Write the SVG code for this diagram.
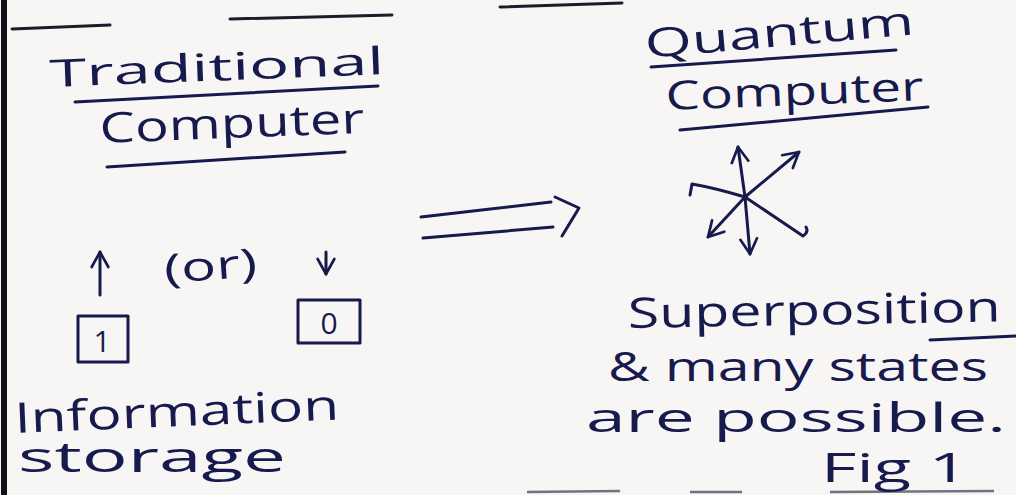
<svg xmlns="http://www.w3.org/2000/svg" width="1016" height="495" viewBox="0 0 1016 495">
<defs>
<style>
.ink{fill:#161a4c;font-family:"Open Sans","DejaVu Sans",sans-serif;font-weight:400;}
.ln{stroke:#161a4c;stroke-width:3;fill:none;stroke-linecap:round;stroke-linejoin:round;}
.rule{stroke:#1c1c2a;stroke-width:3;fill:none;stroke-linecap:round;}
.faint{stroke:#3a3a55;stroke-width:2.5;fill:none;opacity:0.7;}
</style>
<marker id="ah2" viewBox="0 0 12 12" refX="10" refY="6" markerWidth="20" markerHeight="20" orient="auto" markerUnits="userSpaceOnUse">
<path d="M1,1 L10,6 L1,11" fill="none" stroke="#161a4c" stroke-width="1.6" stroke-linecap="round" stroke-linejoin="round"/>
</marker>
</defs>
<rect x="0" y="0" width="1016" height="495" fill="#f8f6f4"/>
<g id="page-lines">
<line x1="4" y1="0" x2="4" y2="495" stroke="#101018" stroke-width="6"/>
<line class="rule" x1="12" y1="29" x2="110" y2="25"/>
<line class="rule" x1="230" y1="19" x2="392" y2="15"/>
<line class="rule" x1="500" y1="7" x2="622" y2="3"/>
<line class="faint" x1="527" y1="492" x2="620" y2="491"/>
<line class="faint" x1="690" y1="492" x2="742" y2="492"/>
<line class="faint" x1="830" y1="492" x2="994" y2="491"/>
<line class="ln" x1="930" y1="340" x2="1016" y2="336"/>
</g>
<g id="traditional-title">
<text class="ink" x="50" y="87" font-size="38" textLength="335" lengthAdjust="spacingAndGlyphs" transform="rotate(-2.2 50 87)">Traditional</text>
<line class="ln" x1="75" y1="102" x2="378" y2="86"/>
<text class="ink" x="100" y="143" font-size="42" textLength="265" lengthAdjust="spacingAndGlyphs" transform="rotate(-2.2 100 143)">Computer</text>
<line class="ln" x1="107" y1="167" x2="345" y2="152"/>
</g>
<g id="quantum-title">
<text class="ink" x="646" y="58" font-size="40" textLength="270" lengthAdjust="spacingAndGlyphs" transform="rotate(-5 646 58)">Quantum</text>
<line class="ln" x1="651" y1="67" x2="896" y2="50"/>
<text class="ink" x="666" y="110" font-size="40" textLength="258" lengthAdjust="spacingAndGlyphs" transform="rotate(-2.2 666 110)">Computer</text>
<line class="ln" x1="680" y1="130" x2="928" y2="107"/>
</g>
<g id="or-label">
<text class="ink" x="165" y="283" font-size="40" textLength="93" lengthAdjust="spacingAndGlyphs" transform="rotate(-4 165 283)">(or)</text>
</g>
<g id="bit-1">
<rect class="ln" x="78" y="316" width="50" height="46"/>
<text class="ink" x="102" y="352" font-size="30" text-anchor="middle">1</text>
</g>
<g id="bit-0">
<rect class="ln" x="298" y="300" width="62" height="43"/>
<text class="ink" x="329" y="334" font-size="30" text-anchor="middle">0</text>
</g>
<g id="info-storage">
<text class="ink" x="15" y="433" font-size="42" textLength="325" lengthAdjust="spacingAndGlyphs" transform="rotate(-2.4 15 433)">Information</text>
<text class="ink" x="18" y="472" font-size="42" textLength="268" lengthAdjust="spacingAndGlyphs">storage</text>
</g>
<g id="superposition-text">
<text class="ink" x="628" y="328" font-size="42" textLength="373" lengthAdjust="spacingAndGlyphs" transform="rotate(-1 628 328)">Superposition</text>
<text class="ink" x="608" y="381" font-size="40" textLength="380" lengthAdjust="spacingAndGlyphs">&amp; many states</text>
<text class="ink" x="586" y="432" font-size="40" textLength="420" lengthAdjust="spacingAndGlyphs">are possible.</text>
<text class="ink" x="821" y="482" font-size="40" textLength="147" lengthAdjust="spacingAndGlyphs">Fig 1</text>
</g>
<g id="connectors">
<line class="ln" x1="100" y1="295" x2="100" y2="252" marker-end="url(#ah2)"/>
<line class="ln" x1="326" y1="252" x2="326" y2="274" marker-end="url(#ah2)"/>
<line class="ln" x1="421" y1="217" x2="551" y2="202"/>
<line class="ln" x1="423" y1="238" x2="553" y2="227"/>
<polyline class="ln" points="555,197 579,208 562,236"/>
<line class="ln" x1="745" y1="197" x2="738" y2="147" marker-end="url(#ah2)"/>
<line class="ln" x1="745" y1="197" x2="799" y2="152" marker-end="url(#ah2)"/>
<path class="ln" d="M745,197 Q715,188 692,184 L690,195"/>
<line class="ln" x1="745" y1="197" x2="708" y2="237" marker-end="url(#ah2)"/>
<line class="ln" x1="745" y1="197" x2="750" y2="254" marker-end="url(#ah2)"/>
<path class="ln" d="M745,197 L803,236 Q809,232 806,227"/>
</g>
</svg>
